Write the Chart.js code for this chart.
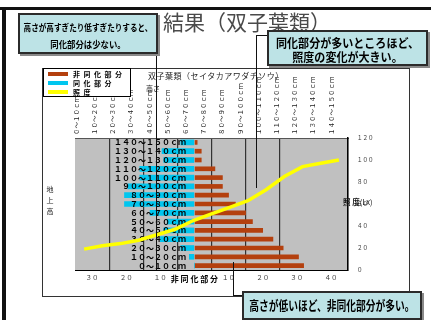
<!DOCTYPE html>
<html lang="ja">
<head>
<meta charset="utf-8">
<script src="https://cdn.jsdelivr.net/npm/chart.js@4"></script>
<style>
  html, body { margin: 0; padding: 0; background: #fff; }
  body { width: 431px; height: 320px; position: relative; overflow: hidden; font-family: "Noto Sans CJK JP", sans-serif; }
  #chart { position: absolute; left: 0; top: 0; }
  .ln { position: absolute; background: #111; }
  .frame { position: absolute; left: 42px; top: 68px; width: 368px; height: 229px; box-sizing: border-box; border: 1px solid #333; }
  .title { position: absolute; left: 163px; top: 8px; font-size: 21px; line-height: 26px; color: #4a4a4a; white-space: nowrap; }
  .note { position: absolute; box-sizing: border-box; background: #bde3e6; border: 2px solid #2b2b2b; box-shadow: 2px 2px 0 #8a8a8a; font-weight: 700; color: #000; text-align: center; }
  /* wider than the box so long lines stay centred before squeezing */
  .note span { display: block; white-space: nowrap; margin: 0 -60px; }
  .legend { position: absolute; left: 43px; top: 68px; width: 88px; height: 29px; box-sizing: border-box; border: 1px solid #000; background: #fff; }
  .legend div { position: absolute; left: 4px; height: 9px; font-size: 7px; line-height: 9px; font-weight: 700; letter-spacing: 3.5px; white-space: nowrap; }
  .legend i { display: inline-block; width: 20px; height: 4px; vertical-align: middle; margin: -2px 5px 0 0; }
  .txt { position: absolute; white-space: nowrap; color: #222; }
</style>
</head>
<body>
<div class="frame"></div>
<canvas id="chart" width="431" height="320"></canvas>

<div class="ln" style="left:0; top:7px; width:431px; height:3px;"></div>
<div class="ln" style="left:2px; top:7px; width:4px; height:313px;"></div>
<div class="title">結果（双子葉類）</div>

<div class="txt" style="left:148px; top:71px; font-size:8px; line-height:10px; letter-spacing:0.5px;">双子葉類（セイタカアワダチソウ）</div>
<div class="txt" style="left:146px; top:84px; font-size:7px; line-height:9px;">高さ</div>
<div class="txt" style="left:46px; top:186px; font-size:7px; line-height:7px; writing-mode:vertical-rl; letter-spacing:4px;">地上高</div>
<div class="txt" style="left:343px; top:197px; font-size:7.5px; line-height:10px; color:#111;"><b>照 度</b>(Lx)</div>

<div class="legend">
  <div style="top:1px;"><i style="background:#b4400e"></i>非同化部分</div>
  <div style="top:10px;"><i style="background:#00c6ef"></i>同化部分</div>
  <div style="top:19px;"><i style="background:#ffff00"></i>照度</div>
</div>

<!-- callout leader lines -->
<div class="ln" style="left:156px; top:53px; width:1px; height:217px;"></div>
<div class="ln" style="left:256px; top:35px; width:11px; height:1px;"></div>
<div class="ln" style="left:256px; top:35px; width:1px; height:153px;"></div>
<div class="ln" style="left:233px; top:262px; width:1px; height:34px;"></div>
<div class="ln" style="left:233px; top:295px; width:10px; height:1px;"></div>

<div class="note" style="left:18px; top:13px; width:140px; height:41px; padding-top:4px; font-size:9.5px; line-height:17px;">
  <span style="transform:scaleX(0.8)">高さが高すぎたり低すぎたりすると、</span>
  <span style="transform:scaleX(0.88)">同化部分は少ない。</span>
</div>
<div class="note" style="left:267px; top:30px; width:161px; height:36px; padding-top:4px; font-size:12px; line-height:14px;">
  <span style="transform:scaleX(0.92)">同化部分が多いところほど、</span>
  <span style="transform:scaleX(0.92)">照度の変化が大きい。</span>
</div>
<div class="note" style="left:242px; top:291px; width:180px; height:29px; padding-top:1px; font-size:13px; line-height:22px;">
  <span style="transform:scaleX(0.75)">高さが低いほど、非同化部分が多い。</span>
</div>

<script>
// height layers, bottom to top
const heights = ['0～10cm', '10～20cm', '20～30cm', '30～40cm', '40～50cm', '50～60cm', '60～70cm', '70～80cm',
                 '80～90cm', '90～100cm', '100～110cm', '110～120cm', '120～130cm', '130～140cm', '140～150cm'];
// non-photosynthetic part (right) and photosynthetic part (left)
const nonAssim = [32, 30.5, 26, 23, 20, 17, 15, 12, 10, 8.2, 8.2, 6, 2, 2, 0.8];
const assim = [0, 1.5, 4, 10, 9, 8, 13, 20.5, 20.5, 19.5, 16, 16, 9, 9.5, 4];
// illuminance (lx) at each layer
const lux = [19, 22, 24, 27, 32, 37, 45, 51, 57, 63, 73, 85, 94, 97, 100];

const barTicks = [-30, -20, -10, 0, 10, 20, 30, 40];
const luxTicks = [0, 20, 40, 60, 80, 100, 120];

const jp = '"Noto Sans CJK JP", sans-serif';

// half-width -> full-width, gives the wide spaced look
function zen(s) {
    return String(s).replace(/[!-~]/g, c => String.fromCharCode(c.charCodeAt(0) + 0xFEE0));
}

const plotBg = {
    id: 'plotBg',
    beforeDraw(chart) {
        const {ctx, chartArea: a} = chart;
        ctx.save();
        ctx.fillStyle = '#c0c0c0';
        ctx.fillRect(a.left, a.top, a.right - a.left, a.bottom - a.top);
        ctx.restore();
    }
};

// layer names written over the left-side bars
const rowLabels = {
    id: 'rowLabels',
    afterDatasetDraw(chart, args) {
        if (args.index !== 1) return;
        const {ctx, scales} = chart;
        const x = scales.xv.getPixelForValue(-2.5);
        ctx.save();
        ctx.font = 'bold 8px ' + jp;
        ctx.fillStyle = '#000';
        ctx.textAlign = 'right';
        ctx.textBaseline = 'middle';
        heights.forEach((h, i) => ctx.fillText(zen(h), x, scales.yc.getPixelForValue(i)));
        ctx.restore();
    }
};

new Chart(document.getElementById('chart'), {
    type: 'bar',
    data: {
        labels: heights,
        datasets: [
            {
                label: '非同化部分', data: nonAssim, backgroundColor: '#b4400e',
                indexAxis: 'y', xAxisID: 'xv', yAxisID: 'yc', barThickness: 4, grouped: false, order: 2
            },
            {
                label: '同化部分', data: assim.map(v => -v), backgroundColor: '#00c6ef',
                indexAxis: 'y', xAxisID: 'xv', yAxisID: 'yc', barThickness: 5, grouped: false, order: 1
            },
            {
                type: 'line', label: '照度', data: lux, borderColor: '#ffff00', borderWidth: 3.5,
                pointRadius: 0, tension: 0, xAxisID: 'xc', yAxisID: 'yl', order: 0
            }
        ]
    },
    options: {
        responsive: false,
        animation: false,
        devicePixelRatio: 1,
        layout: {padding: {left: 75, right: 53, top: 68, bottom: 30}},
        plugins: {legend: {display: false}, tooltip: {enabled: false}},
        scales: {
            xv: {
                type: 'linear', axis: 'x', position: 'bottom', min: -30, max: 40,
                afterBuildTicks: s => { s.ticks = barTicks.map(v => ({value: v})); },
                grid: {
                    color: c => (c.tick && (c.tick.value === -30 || c.tick.value === 40)) ? 'rgba(0,0,0,0)' : '#333',
                    lineWidth: 1.2, drawTicks: false
                },
                border: {display: true, color: '#000', width: 1},
                ticks: {
                    padding: 4, autoSkip: false, minRotation: 0, maxRotation: 0,
                    color: c => (c.tick && c.tick.value === 0) ? '#000' : '#333',
                    font: c => (c.tick && c.tick.value === 0) ? {family: jp, size: 8, weight: 'bold'} : {family: jp, size: 6.5},
                    callback: v => v === 0 ? '非 同 化 部 分' : zen(Math.abs(v))
                },
                afterFit: s => { s.height = 20; }
            },
            yc: {type: 'category', axis: 'y', position: 'left', reverse: true, offset: true, display: false},
            xc: {
                type: 'category', axis: 'x', position: 'top', offset: true,
                grid: {display: false, drawTicks: false},
                border: {display: true, color: '#555'},
                ticks: {
                    autoSkip: false, minRotation: 90, maxRotation: 90, padding: 3, color: '#222',
                    font: {family: jp, size: 6.5},
                    callback: function (v) { return zen(this.getLabelForValue(v)); }
                },
                afterFit: s => { s.height = 70; }
            },
            yl: {
                type: 'linear', axis: 'y', position: 'right', min: 0, max: 120,
                afterBuildTicks: s => { s.ticks = luxTicks.map(v => ({value: v})); },
                grid: {display: false, drawTicks: false},
                border: {display: true, color: '#000', width: 1.5},
                ticks: {padding: 9, color: '#333', font: {family: jp, size: 5.5}, callback: v => zen(v)},
                afterFit: s => { s.width = 30; }
            }
        }
    },
    plugins: [plotBg, rowLabels]
});
</script>
</body>
</html>
